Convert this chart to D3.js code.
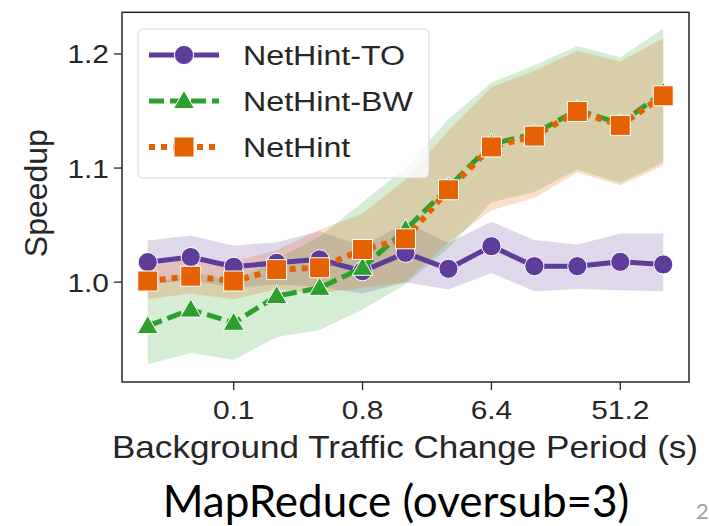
<!DOCTYPE html>
<html>
<head>
<meta charset="utf-8">
<script src="https://cdn.jsdelivr.net/npm/d3@7"></script>
<style>
  html, body { margin: 0; padding: 0; background: #fff; }
  svg { display: block; }
</style>
</head>
<body>
<svg id="chart" width="709" height="526"></svg>
<script>
// Background traffic change period (s), one category per experiment
const periods = ["0.025", "0.05", "0.1", "0.2", "0.4", "0.8", "1.6", "3.2", "6.4", "12.8", "25.6", "51.2", "102.4"];
const xTickLabels = ["0.1", "0.8", "6.4", "51.2"];
const yTicks = [1.0, 1.1, 1.2];
const yDomain = [0.9125, 1.2365];

// NetHint-TO: mean speedup and confidence band
const toMean = [1.0175, 1.022, 1.0135, 1.017, 1.020, 1.0096, 1.0257, 1.0117, 1.0315, 1.014, 1.014, 1.0178, 1.0155];
const toLo   = [0.998, 1.002, 0.995, 0.998, 0.996, 0.990, 1.000, 0.9936, 1.008, 0.992, 0.994, 0.993, 0.992];
const toHi   = [1.0365, 1.041, 1.032, 1.035, 1.0446, 1.0315, 1.052, 1.0345, 1.053, 1.037, 1.033, 1.0426, 1.0426];

// NetHint-BW
const bwMean = [0.9615, 0.976, 0.9644, 0.9878, 0.995, 1.0126, 1.046, 1.083, 1.121, 1.130, 1.151, 1.139, 1.166];
const bwLo   = [0.928, 0.938, 0.932, 0.952, 0.958, 0.976, 0.998, 1.030, 1.070, 1.079, 1.0985, 1.087, 1.105];
const bwHi   = [0.995, 1.010, 1.000, 1.020, 1.040, 1.070, 1.100, 1.143, 1.175, 1.190, 1.207, 1.197, 1.222];

// NetHint
const nhMean = [1.001, 1.0052, 1.001, 1.011, 1.0126, 1.0286, 1.038, 1.081, 1.1185, 1.128, 1.1496, 1.1374, 1.1633];
const nhLo   = [0.985, 0.990, 0.985, 0.994, 0.990, 0.995, 1.000, 1.035, 1.063, 1.074, 1.096, 1.085, 1.102];
const nhHi   = [1.015, 1.020, 1.018, 1.028, 1.046, 1.060, 1.090, 1.133, 1.171, 1.185, 1.2027, 1.1934, 1.2138];

const seriesNames = ["NetHint-TO", "NetHint-BW", "NetHint"];

const series = [
  { name: seriesNames[0], mean: toMean, lo: toLo, hi: toHi, color: "#5e3c99", dash: null, width: 5, marker: "circle" },
  { name: seriesNames[1], mean: bwMean, lo: bwLo, hi: bwHi, color: "#2ca02c", dash: "15,6", width: 5, marker: "triangle" },
  { name: seriesNames[2], mean: nhMean, lo: nhLo, hi: nhHi, color: "#e66101", dash: "6,6", width: 6, marker: "square" }
];

const svg = d3.select("#chart");
const plot = { left: 122, right: 689, top: 12.3, bottom: 382 };
const ink = "#262626";
const textStretch = 1.15;

const x = d3.scalePoint().domain(periods).range([plot.left, plot.right]).padding(0.6);
const y = d3.scaleLinear().domain(yDomain).range([plot.bottom, plot.top]);

const symbolFor = {
  circle: d3.symbol().type(d3.symbolCircle).size(Math.PI * 9.6 * 9.6),
  triangle: d3.symbol().type(d3.symbolTriangle).size(190),
  square: d3.symbol().type(d3.symbolSquare).size(400)
};

svg.append("clipPath").attr("id", "plot-clip")
  .append("rect")
  .attr("x", plot.left).attr("y", plot.top)
  .attr("width", plot.right - plot.left).attr("height", plot.bottom - plot.top);

const body = svg.append("g").attr("clip-path", "url(#plot-clip)");

// confidence bands
const area = d3.area()
  .x((d, i) => x(periods[i]))
  .y0(d => y(d[0]))
  .y1(d => y(d[1]));

series.forEach(s => {
  body.append("path")
    .datum(s.lo.map((v, i) => [v, s.hi[i]]))
    .attr("d", area)
    .attr("fill", s.color)
    .attr("fill-opacity", 0.2);
});

// lines and markers
const line = d3.line().x((d, i) => x(periods[i])).y(d => y(d));

series.forEach(s => {
  body.append("path")
    .datum(s.mean)
    .attr("d", line)
    .attr("fill", "none")
    .attr("stroke", s.color)
    .attr("stroke-width", s.width)
    .attr("stroke-dasharray", s.dash)
    .attr("stroke-linejoin", "round");
  body.selectAll(null)
    .data(s.mean)
    .join("path")
    .attr("d", symbolFor[s.marker])
    .attr("transform", (d, i) => `translate(${x(periods[i])},${y(d) + (s.marker === "triangle" ? 1.5 : 0)})`)
    .attr("fill", s.color)
    .attr("stroke", "#fff")
    .attr("stroke-width", 1);
});

// frame
svg.append("rect")
  .attr("x", plot.left).attr("y", plot.top)
  .attr("width", plot.right - plot.left).attr("height", plot.bottom - plot.top)
  .attr("fill", "none").attr("stroke", ink).attr("stroke-width", 1.5);

function stretchedText(parent, tx, ty, str, opts) {
  return parent.append("text")
    .attr("transform", `translate(${tx},${ty}) scale(${opts.sx || textStretch},1)`)
    .attr("text-anchor", opts.anchor || "start")
    .attr("font-family", opts.family || "'Liberation Sans', Arial, sans-serif")
    .attr("font-size", opts.size)
    .attr("fill", opts.color || ink)
    .text(str);
}

// y axis
const yAxis = svg.append("g");
yTicks.forEach(t => {
  yAxis.append("line")
    .attr("x1", plot.left - 8).attr("x2", plot.left)
    .attr("y1", y(t)).attr("y2", y(t))
    .attr("stroke", ink).attr("stroke-width", 1.3);
  stretchedText(yAxis, plot.left - 13, y(t) + 9.5, d3.format(".1f")(t), { anchor: "end", size: 26 });
});

// x axis
const xAxis = svg.append("g");
xTickLabels.forEach(t => {
  xAxis.append("line")
    .attr("x1", x(t)).attr("x2", x(t))
    .attr("y1", plot.bottom).attr("y2", plot.bottom + 8)
    .attr("stroke", ink).attr("stroke-width", 1.3);
  stretchedText(xAxis, x(t), 419, t, { anchor: "middle", size: 26 });
});

// axis titles
stretchedText(svg, 405, 457.5, "Background Traffic Change Period (s)", { anchor: "middle", size: 30.5 });
svg.append("text")
  .attr("transform", `translate(47,${(plot.top + plot.bottom) / 2 - 4}) rotate(-90)`)
  .attr("text-anchor", "middle")
  .attr("font-family", "'Liberation Sans', Arial, sans-serif")
  .attr("font-size", 32)
  .attr("fill", ink)
  .text("Speedup");

// legend
const legend = svg.append("g");
legend.append("rect")
  .attr("x", 138).attr("y", 29).attr("width", 291).attr("height", 149)
  .attr("rx", 5)
  .attr("fill", "#fff").attr("fill-opacity", 0.8)
  .attr("stroke", "#d6d6d6").attr("stroke-width", 1);

series.forEach((s, i) => {
  const cy = 55 + i * 46;
  legend.append("line")
    .attr("x1", 149).attr("x2", 219)
    .attr("y1", cy).attr("y2", cy)
    .attr("stroke", s.color)
    .attr("stroke-width", s.width)
    .attr("stroke-dasharray", s.dash);
  legend.append("path")
    .attr("d", symbolFor[s.marker])
    .attr("transform", `translate(184,${cy + (s.marker === "triangle" ? 1.5 : 0)})`)
    .attr("fill", s.color)
    .attr("stroke", "#fff")
    .attr("stroke-width", 1);
  stretchedText(legend, 243, cy + 10, s.name, { size: 28 });
});

// caption below the chart
svg.append("text")
  .attr("x", 396).attr("y", 517)
  .attr("text-anchor", "middle")
  .attr("font-family", "Lato, 'Open Sans', sans-serif")
  .attr("font-size", 44)
  .attr("fill", "#000")
  .text("MapReduce (oversub=3)");

// slide number at the right edge
svg.append("text")
  .attr("x", 696).attr("y", 519)
  .attr("font-family", "Lato, sans-serif")
  .attr("font-size", 22)
  .attr("fill", "#a0a0a0")
  .text("2");
</script>
</body>
</html>
